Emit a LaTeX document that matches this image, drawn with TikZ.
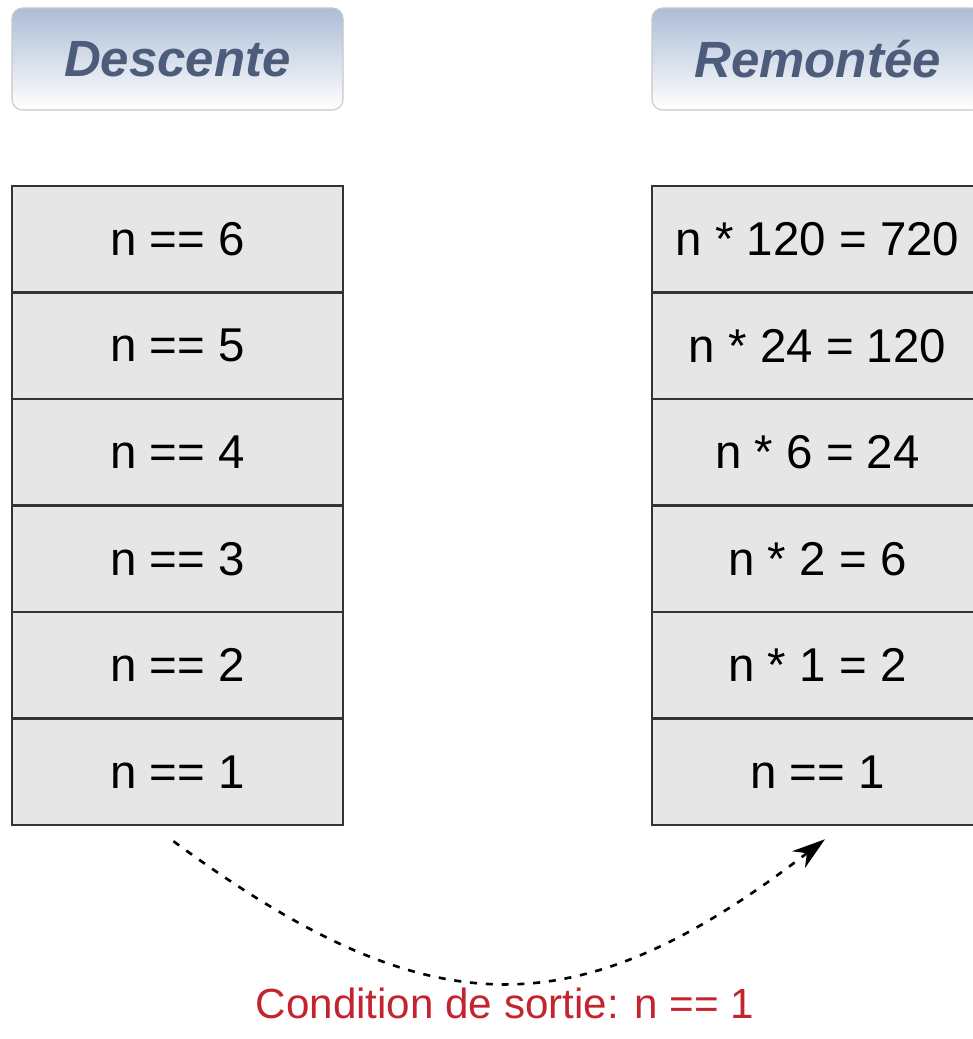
\documentclass[tikz,border=0pt]{standalone}
\usepackage{fontspec}
\setmainfont{Liberation Sans}
\usepackage{xcolor}
\usepackage{tikz}
\usetikzlibrary{arrows.meta, positioning}
\definecolor{headtop}{RGB}{172,189,214}
\definecolor{headtext}{RGB}{78,92,124}
\definecolor{cellgray}{RGB}{230,230,230}
\definecolor{exitred}{RGB}{196,36,46}
\tikzstyle{header} = [rectangle, rounded corners=6pt, minimum width=6.62cm, minimum height=2.04cm, text centered, draw=black!22, line width=0.6pt, top color=headtop, bottom color=white, text=headtext, font=\fontsize{29}{34}\selectfont\bfseries\itshape]
\tikzstyle{cell} = [rectangle, minimum width=6.62cm, minimum height=2.13cm, text centered, draw=black!80, line width=1.4pt, fill=cellgray, font=\fontsize{27}{32}\selectfont]
\tikzstyle{arrow} = [line width=1.5pt, dash pattern=on 4pt off 5pt, -{Stealth[length=19pt, width=12pt, inset=6pt]}]

\begin{document}
\begin{tikzpicture}[node distance=2.13cm]
				\useasboundingbox (0,0) rectangle (19.46,-20.78);
				
				% Headers
				\node (descente) [header] at (3.55,-1.18) {Descente};
				\node (remontee) [header] at (16.35,-1.18) {Remontée};
				
				% Nodes for descente
				\node (d6) [cell] at (3.55,-4.785) {n == 6};
				\node (d5) [cell, below of=d6] {n == 5};
				\node (d4) [cell, below of=d5] {n == 4};
				\node (d3) [cell, below of=d4] {n == 3};
				\node (d2) [cell, below of=d3] {n == 2};
				\node (d1) [cell, below of=d2] {n == 1};
				
				% Nodes for remontee
				\node (r6) [cell] at (16.35,-4.785) {n * 120 = 720};
				\node (r5) [cell, below of=r6] {n * 24 = 120};
				\node (r4) [cell, below of=r5] {n * 6 = 24};
				\node (r3) [cell, below of=r4] {n * 2 = 6};
				\node (r2) [cell, below of=r3] {n * 1 = 2};
				\node (r1) [cell, below of=r2] {n == 1};
				
				% Exit arrow
				\coordinate [below=0.3cm of d1.south, xshift=-0.08cm] (exitstart);
				\coordinate [below=0.26cm of r1.south, xshift=0.15cm] (exitend);
				\draw [arrow] (exitstart) .. controls +(5.1,-3.75) and +(-5.0,-3.85) .. (exitend);
				
				% Labels
				\node (exitlabel) [text=exitred, font=\fontsize{24}{28}\selectfont] at (10.1,-20.06) {Condition de sortie: n == 1};
				
			\end{tikzpicture}
\end{document}
